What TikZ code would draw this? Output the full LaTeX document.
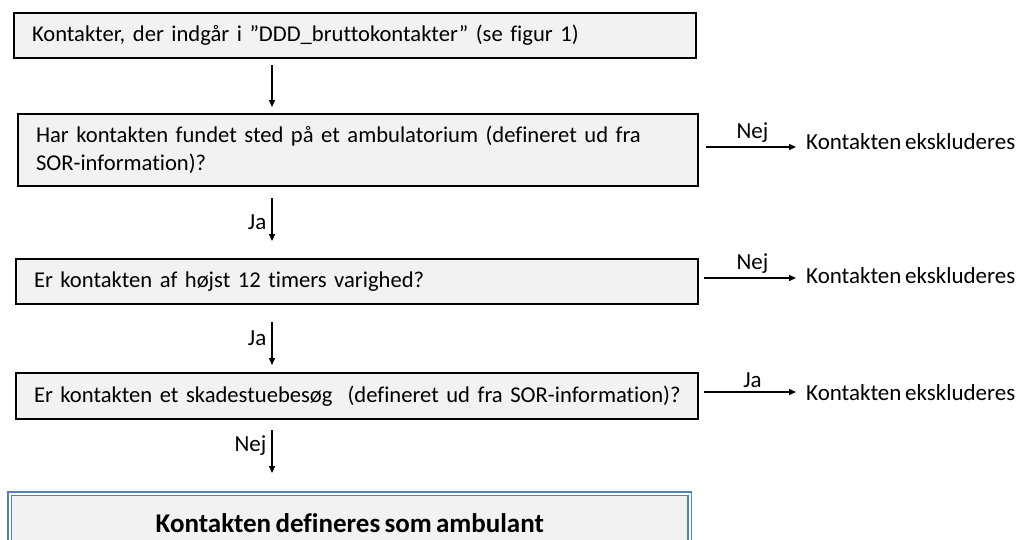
\documentclass[tikz,border=0pt]{standalone}
\usepackage{fontspec}
\setmainfont{Carlito}[Ligatures=NoCommon, WordSpace=0.7]
\usetikzlibrary{arrows.meta}
\definecolor{boxfill}{HTML}{F2F2F2}
\definecolor{bluebord}{HTML}{4F81BD}
\tikzset{
  qbox/.style={draw=black, line width=2pt, fill=boxfill, anchor=north west,
    inner xsep=18pt, inner ysep=0pt, align=left, font=\fontsize{22.6}{28}\selectfont},
  endbox/.style={draw=bluebord, line width=1.6pt, double=white, double distance=1.6pt,
    fill=boxfill, anchor=north west, inner sep=0pt, align=center,
    font=\fontsize{27}{30}\selectfont\bfseries},
  lbl/.style={font=\fontsize{23}{26}\selectfont, inner sep=0pt},
  arr/.style={draw=black, line width=1.4pt, -{Triangle[length=7pt,width=6pt]}},
}
\newcommand{\oneline}[1]{\makebox[646pt][l]{#1}}
\begin{document}
\begin{tikzpicture}[x=1pt,y=-1pt]
\useasboundingbox (0,0) rectangle (1020,539);
% boxes
\node[qbox, minimum width=682pt, minimum height=45pt, text width=646pt] (b1) at (13,12)
  {\oneline{Kontakter, der indgår i ”DDD\_bruttokontakter” (se figur 1)}};
\node[qbox, minimum width=680pt, minimum height=72pt, text width=644pt] (b2) at (17,113)
  {\makebox[644pt][l]{Har kontakten fundet sted på et ambulatorium (defineret ud fra}\\SOR-information)?};
\node[qbox, minimum width=682pt, minimum height=45pt, text width=646pt] (b3) at (15,258)
  {\oneline{Er kontakten af højst 12 timers varighed?}};
\node[qbox, minimum width=682pt, minimum height=46pt, text width=646pt] (b4) at (15,372)
  {\oneline{Er kontakten et skadestuebesøg\ \ (defineret ud fra SOR-information)?}};
\node[endbox, minimum width=680pt, minimum height=60pt] (b5) at (9,493)
  {\raisebox{1pt}{Kontakten defineres som ambulant}};
% exclusion texts
\node[lbl, anchor=west] (e2) at (806,142) {Kontakten ekskluderes};
\node[lbl, anchor=west] (e3) at (806,276) {Kontakten ekskluderes};
\node[lbl, anchor=west] (e4) at (806,393) {Kontakten ekskluderes};
% column for vertical arrows
\coordinate (col) at (272,0);
\draw[arr, shorten <=6pt, shorten >=6pt] (b1.south -| col) -- (b2.north -| col);
\draw[arr, shorten <=11pt, shorten >=17pt] (b2.south -| col) -- node[lbl, left=5pt] {Ja} (b3.north -| col);
\draw[arr, shorten <=17pt, shorten >=7pt] (b3.south -| col) -- node[lbl, left=5pt] {Ja} (b4.north -| col);
\draw[arr, shorten <=10pt, shorten >=20pt] (b4.south -| col) -- node[lbl, left=5pt, pos=0.35] {Nej} (b5.north -| col);
% horizontal arrows
\draw[arr, shorten <=7pt, shorten >=10pt] (b2.east |- 0,147) -- node[lbl, above=4pt] {Nej} (e2.west |- 0,147);
\draw[arr, shorten <=5pt, shorten >=10pt] (b3.east |- 0,278) -- node[lbl, above=4pt] {Nej} (e3.west |- 0,278);
\draw[arr, shorten <=5pt, shorten >=10pt] (b4.east |- 0,392) -- node[lbl, above=4pt] {Ja} (e4.west |- 0,392);
\end{tikzpicture}
\end{document}
